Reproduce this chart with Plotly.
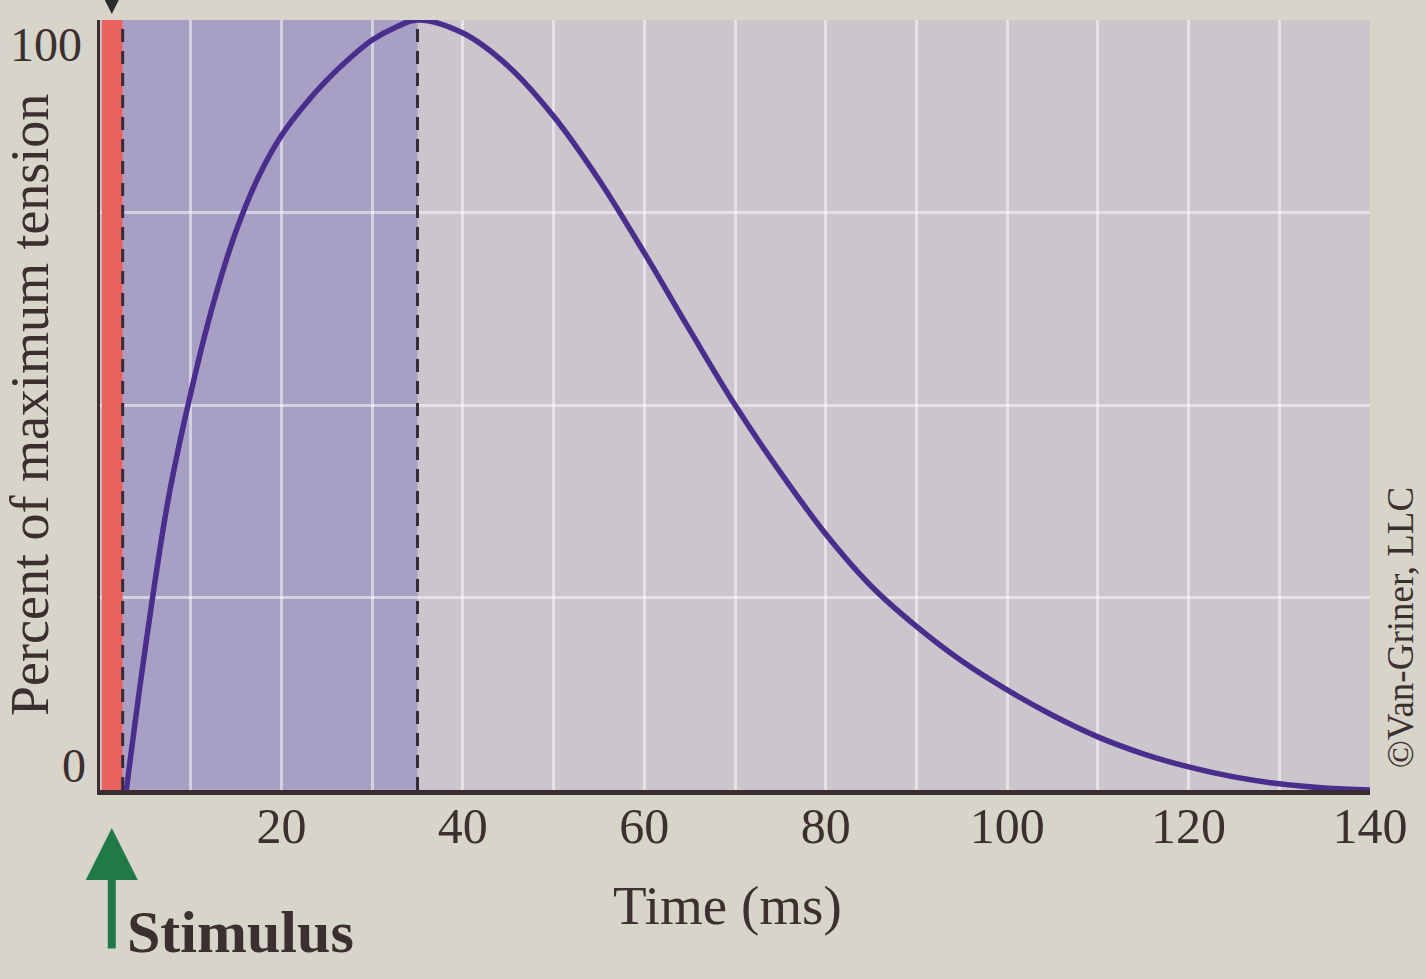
import plotly.graph_objects as go

# ---- data ----
time_ms = [2.9, 5, 7.5, 10, 12.5, 15, 17.5, 20, 22.5, 25, 27.5, 30, 32.5, 35, 40, 45, 50, 55, 60, 65,
           70, 75, 80, 85, 90, 95, 100, 105, 110, 115, 120, 125, 130, 135, 140]
tension_pct = [0, 18.5, 37.6, 51.5, 63.2, 72.6, 79.7, 85.0, 88.9, 92.2, 95.0, 97.4, 99.0, 100,
               98.3, 94, 87.5, 79.25, 69.75, 59.75,
               50, 41.25, 33.25, 26.5, 21.25, 16.75, 13, 9.7, 6.9, 4.7, 3.0, 1.7, 0.8, 0.25, 0]

latent_end = 2.5        # end of latent period (ms)
contraction_end = 35    # end of contraction period (ms)
x_ticks = [20, 40, 60, 80, 100, 120, 140]

PAPER = "#d7d4ca"
RELAX = "#cbc5cc"
CONTRACT = "#a8a0c4"
RED = "#e8615f"
CURVE = "#4a2e8e"
DARK = "#3a2d30"
TEXT = "#3b2f2f"
GRID = "rgba(255,255,255,0.5)"
SERIF = "Liberation Serif, Times New Roman, serif"

fig = go.Figure()
fig.add_trace(go.Scatter(
    x=time_ms, y=tension_pct, mode="lines",
    line=dict(color=CURVE, width=5.5, shape="spline", smoothing=1.0),
    cliponaxis=False, hoverinfo="skip", showlegend=False))

shapes = [
    dict(type="rect", xref="x", yref="y", x0=latent_end, x1=contraction_end, y0=0, y1=100,
         fillcolor=CONTRACT, line=dict(width=0), layer="below"),
    dict(type="rect", xref="x", yref="y", x0=0.2, x1=latent_end, y0=0, y1=100,
         fillcolor=RED, line=dict(width=0), layer="between"),
    dict(type="line", xref="x", yref="y", x0=latent_end, x1=latent_end, y0=0, y1=100,
         line=dict(color="#352c38", width=3, dash="13px,9px"), layer="between"),
    dict(type="line", xref="x", yref="y", x0=contraction_end, x1=contraction_end, y0=0, y1=100,
         line=dict(color="#352c38", width=3, dash="13px,9px"), layer="between"),
]

annotations = []
annotations.append(dict(x=0, y=100, xref="x", yref="y", text="100", showarrow=False,
                        xanchor="right", yanchor="top", xshift=-16, yshift=4,
                        font=dict(family=SERIF, size=48, color=TEXT)))
annotations.append(dict(x=0, y=0, xref="x", yref="y", text="0", showarrow=False,
                        xanchor="right", yanchor="bottom", xshift=-12, yshift=-4,
                        font=dict(family=SERIF, size=48, color=TEXT)))
annotations.append(dict(x=0, y=0.5, xref="paper", yref="paper", text="Percent of maximum tension",
                        textangle=-90, showarrow=False, xanchor="center", yanchor="middle",
                        xshift=-70, font=dict(family=SERIF, size=54, color=TEXT)))
annotations.append(dict(x=0.494, y=0, xref="paper", yref="paper", text="Time (ms)",
                        showarrow=False, xanchor="center", yanchor="middle", yshift=-115,
                        font=dict(family=SERIF, size=55, color=TEXT)))
annotations.append(dict(x=0.02, y=0, xref="paper", yref="paper", text="<b>Stimulus</b>",
                        showarrow=False, xanchor="left", yanchor="middle", yshift=-142,
                        font=dict(family=SERIF, size=60, color=TEXT)))
annotations.append(dict(x=1, y=0.21, xref="paper", yref="paper", text="©Van-Griner, LLC",
                        textangle=-90, showarrow=False, xanchor="center", yanchor="middle",
                        xshift=30, font=dict(family=SERIF, size=37, color=TEXT)))
annotations.append(dict(x=1.3, y=0, xref="x", yref="paper", text="", showarrow=True,
                        ax=0, ay=122, axref="pixel", ayref="pixel", yshift=-38,
                        arrowhead=2, arrowsize=1.3, arrowwidth=8, arrowcolor="#1f7a48"))
annotations.append(dict(x=1.3, y=1, xref="x", yref="paper", text="", showarrow=True,
                        ax=0, ay=-40, axref="pixel", ayref="pixel", yshift=6,
                        arrowhead=2, arrowsize=1.2, arrowwidth=4, arrowcolor="#2b2b2b"))

fig.update_layout(
    width=1426, height=979,
    margin=dict(l=100, r=56, t=20, b=189),
    paper_bgcolor=PAPER, plot_bgcolor=RELAX,
    shapes=shapes, annotations=annotations, showlegend=False,
    xaxis=dict(range=[0, 140], tickvals=x_ticks, ticktext=[str(v) for v in x_ticks],
               showgrid=True, gridcolor=GRID, gridwidth=2.5,
               zeroline=False, showline=True, linecolor=DARK, linewidth=5,
               ticks="", ticklabelstandoff=-12,
               tickfont=dict(family=SERIF, size=50, color=TEXT),
               minor=dict(tickvals=[10, 30, 50, 70, 90, 110, 130], showgrid=True,
                          gridcolor=GRID, gridwidth=2.5)),
    yaxis=dict(range=[0, 100], tickvals=[25, 50, 75], showticklabels=False,
               showgrid=True, gridcolor=GRID, gridwidth=2.5,
               zeroline=False, showline=True, linecolor=DARK, linewidth=3, ticks=""),
)

fig.write_html("out.html")
